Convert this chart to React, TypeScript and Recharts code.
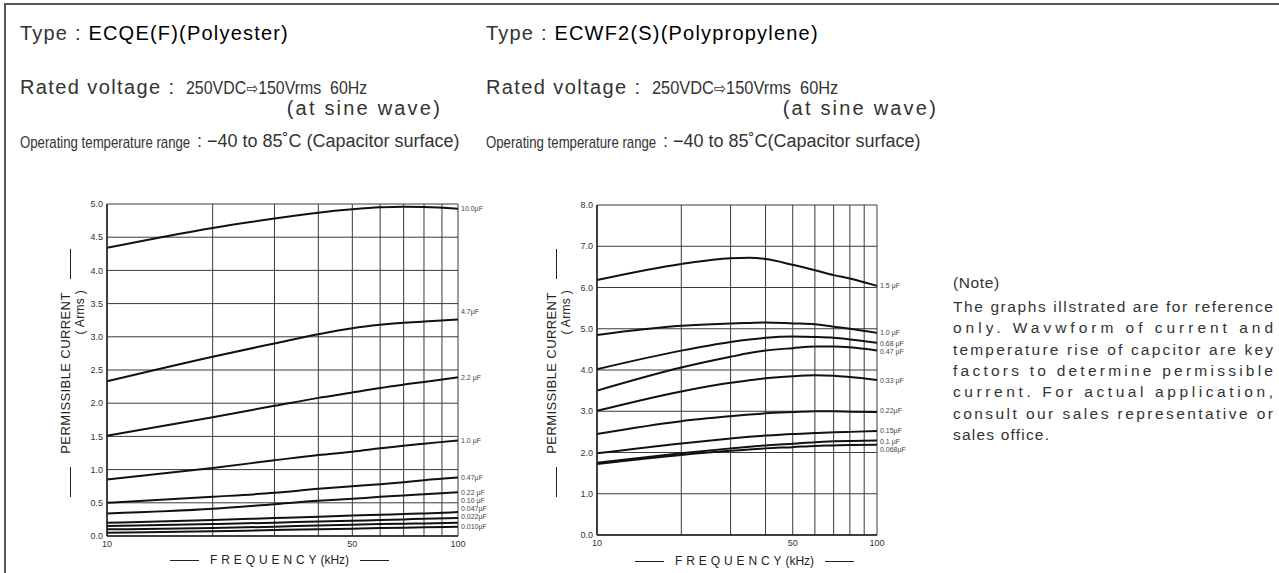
import React, { useLayoutEffect, useRef, useState } from "react";
import { CartesianGrid, Line, LineChart, XAxis, YAxis } from "recharts";

// ---- left chart: ECQE(F) polyester ----
const LEFT_FREQ = [10, 20, 30, 40, 50, 60, 70, 80, 100];
const LEFT_10_0 = [4.34, 4.64, 4.78, 4.87, 4.92, 4.95, 4.96, 4.955, 4.93];
const LEFT_4_7 = [2.33, 2.7, 2.9, 3.04, 3.13, 3.18, 3.21, 3.23, 3.26];
const LEFT_2_2 = [1.51, 1.79, 1.96, 2.08, 2.16, 2.23, 2.28, 2.32, 2.39];
const LEFT_1_0 = [0.85, 1.025, 1.14, 1.22, 1.27, 1.32, 1.36, 1.39, 1.44];
const LEFT_0_47 = [0.5, 0.59, 0.65, 0.71, 0.75, 0.78, 0.81, 0.84, 0.88];
const LEFT_0_22 = [0.34, 0.41, 0.48, 0.53, 0.56, 0.59, 0.61, 0.63, 0.66];
const LEFT_0_10 = [0.2, 0.24, 0.27, 0.29, 0.31, 0.32, 0.33, 0.34, 0.36];
const LEFT_0_047 = [0.15, 0.18, 0.2, 0.22, 0.23, 0.24, 0.25, 0.26, 0.27];
const LEFT_0_022 = [0.1, 0.12, 0.14, 0.16, 0.17, 0.18, 0.185, 0.19, 0.2];
const LEFT_0_010 = [0.05, 0.07, 0.09, 0.1, 0.11, 0.12, 0.125, 0.13, 0.14];
const LEFT_Y_TICKS = [0, 0.5, 1, 1.5, 2, 2.5, 3, 3.5, 4, 4.5, 5];

// ---- right chart: ECWF2(S) polypropylene ----
const RIGHT_FREQ = [10, 20, 30, 35, 40, 50, 60, 70, 80, 100];
const RIGHT_1_5 = [6.18, 6.57, 6.71, 6.72, 6.69, 6.55, 6.42, 6.3, 6.22, 6.04];
const RIGHT_1_0 = [4.85, 5.07, 5.13, 5.14, 5.15, 5.13, 5.11, 5.05, 5.0, 4.9];
const RIGHT_0_68 = [4.02, 4.47, 4.68, 4.74, 4.78, 4.81, 4.8, 4.78, 4.74, 4.66];
const RIGHT_0_47 = [3.5, 4.06, 4.32, 4.41, 4.47, 4.53, 4.57, 4.57, 4.55, 4.47];
const RIGHT_0_33 = [3.01, 3.48, 3.69, 3.75, 3.8, 3.85, 3.87, 3.86, 3.83, 3.76];
const RIGHT_0_22 = [2.45, 2.76, 2.88, 2.92, 2.95, 2.98, 3.0, 3.0, 2.99, 2.98];
const RIGHT_0_15 = [1.98, 2.22, 2.34, 2.38, 2.41, 2.45, 2.47, 2.49, 2.5, 2.52];
const RIGHT_0_1 = [1.75, 1.98, 2.1, 2.14, 2.17, 2.21, 2.25, 2.27, 2.28, 2.29];
const RIGHT_0_068 = [1.72, 1.94, 2.04, 2.07, 2.1, 2.13, 2.16, 2.17, 2.18, 2.19];
const RIGHT_Y_TICKS = [0, 1, 2, 3, 4, 5, 6, 7, 8];

const X_TICKS = [10, 20, 30, 40, 50, 60, 70, 80, 90, 100];
const X_LABELED = [10, 50, 100];

const LEFT_SERIES = [
  { key: "c10_0", name: "10.0μF", values: LEFT_10_0 },
  { key: "c4_7", name: "4.7μF", values: LEFT_4_7 },
  { key: "c2_2", name: "2.2 μF", values: LEFT_2_2 },
  { key: "c1_0", name: "1.0 μF", values: LEFT_1_0 },
  { key: "c0_47", name: "0.47μF", values: LEFT_0_47 },
  { key: "c0_22", name: "0.22 μF", values: LEFT_0_22 },
  { key: "c0_10", name: "0.10 μF", values: LEFT_0_10 },
  { key: "c0_047", name: "0.047μF", values: LEFT_0_047 },
  { key: "c0_022", name: "0.022μF", values: LEFT_0_022 },
  { key: "c0_010", name: "0.010μF", values: LEFT_0_010 },
];

const RIGHT_SERIES = [
  { key: "c1_5", name: "1.5 μF", values: RIGHT_1_5 },
  { key: "c1_0", name: "1.0 μF", values: RIGHT_1_0 },
  { key: "c0_68", name: "0.68 μF", values: RIGHT_0_68 },
  { key: "c0_47", name: "0.47 μF", values: RIGHT_0_47 },
  { key: "c0_33", name: "0.33 μF", values: RIGHT_0_33 },
  { key: "c0_22", name: "0.22μF", values: RIGHT_0_22 },
  { key: "c0_15", name: "0.15μF", values: RIGHT_0_15 },
  { key: "c0_1", name: "0.1 μF", values: RIGHT_0_1 },
  { key: "c0_068", name: "0.068μF", values: RIGHT_0_068 },
];

// label nudges so the end labels don't collide
const LEFT_LABEL_DY: Record<string, number> = {
  c4_7: -8,
  c0_10: -12,
  c0_047: -10,
  c0_022: -6,
};
const RIGHT_LABEL_DY: Record<string, number> = {
  c0_68: 1,
  c0_47: 1,
  c0_33: 1,
  c0_22: -2,
  c0_15: -1,
  c0_1: 1.5,
  c0_068: 5,
};

type Series = { key: string; name: string; values: number[] };

function buildRows(freq: number[], series: Series[]) {
  return freq.map((f, i) => {
    const row: Record<string, number> = { f };
    for (const s of series) row[s.key] = s.values[i];
    return row;
  });
}

const FONT = "'Liberation Sans', Arial, Helvetica, sans-serif";
const GRID = "#3a3a3a";
const INK = "#111";
const TEXT = "#333";

function endLabel(name: string, dy: number, lastIndex: number) {
  return (props: any) => {
    const { cx, cy, index } = props;
    if (index !== lastIndex) return <g key={`d${index}`} />;
    return (
      <text key={`d${index}`} x={cx + 3} y={cy + dy} dy="0.35em" fontSize={7} fill="#444" fontFamily={FONT}>
        {name}
      </text>
    );
  };
}

function CurrentChart({
  freq,
  series,
  yTicks,
  minorTicks,
  yMax,
  labelDy,
  margin,
}: {
  freq: number[];
  series: Series[];
  yTicks: number[];
  minorTicks: number[];
  yMax: number;
  labelDy: Record<string, number>;
  margin: { top: number; right: number; bottom: number; left: number };
}) {
  const rows = buildRows(freq, series);
  const tickStyle = { fontSize: 9, fill: TEXT, fontFamily: FONT };
  return (
    <LineChart width={440} height={380} data={rows} margin={margin}>
      <CartesianGrid stroke={GRID} strokeWidth={1} />
      <XAxis
        dataKey="f"
        type="number"
        scale="log"
        domain={[10, 100]}
        ticks={X_TICKS}
        interval={0}
        tickFormatter={(v: number) => (X_LABELED.includes(v) ? String(v) : "")}
        tick={tickStyle}
        tickLine={false}
        tickSize={3}
        axisLine={{ stroke: "#222", strokeWidth: 1.5 }}
        height={20}
      />
      <XAxis
        xAxisId="top"
        orientation="top"
        dataKey="f"
        type="number"
        scale="log"
        domain={[10, 100]}
        tick={false}
        tickLine={false}
        height={0}
        axisLine={{ stroke: "#777", strokeWidth: 2 }}
      />
      <YAxis
        type="number"
        domain={[0, yMax]}
        ticks={yTicks}
        interval={0}
        tickFormatter={(v: number) => v.toFixed(1)}
        tick={tickStyle}
        tickLine={false}
        tickSize={2}
        axisLine={{ stroke: "#222", strokeWidth: 1.5 }}
        width={30}
      />
      <YAxis
        yAxisId="minor"
        type="number"
        domain={[0, yMax]}
        ticks={minorTicks}
        interval={0}
        mirror
        tickFormatter={() => ""}
        tick={tickStyle}
        tickLine={{ stroke: "#333", strokeWidth: 1 }}
        tickSize={2}
        axisLine={false}
        width={0}
      />
      <YAxis
        yAxisId="right"
        orientation="right"
        type="number"
        domain={[0, yMax]}
        tick={false}
        tickLine={false}
        axisLine={{ stroke: "#222", strokeWidth: 1.5 }}
        width={0}
      />
      {series.map((s) => (
        <Line
          key={s.key}
          type="monotone"
          dataKey={s.key}
          stroke={INK}
          strokeWidth={2}
          dot={endLabel(s.name, labelDy[s.key] ?? 0, rows.length - 1)}
          activeDot={false}
          isAnimationActive={false}
        />
      ))}
    </LineChart>
  );
}

function YTitle({ left, top }: { left: number; top: number }) {
  const rule = <span style={{ display: "inline-block", width: 30, borderTop: "1px solid #222", marginBottom: 2 }} />;
  return (
    <div
      style={{
        position: "absolute",
        left,
        top,
        width: 248,
        height: 30,
        transform: "translate(-50%, -50%) rotate(-90deg)",
        fontFamily: FONT,
        color: "#222",
      }}
    >
      <div style={{ display: "flex", alignItems: "flex-end", justifyContent: "space-between", fontSize: 13, letterSpacing: 0.4, lineHeight: "14px" }}>
        {rule}
        <span>PERMISSIBLE CURRENT</span>
        {rule}
      </div>
      <div style={{ fontSize: 12, lineHeight: "14px", textAlign: "right", paddingRight: 41, letterSpacing: 0.3 }}>( Arms )</div>
    </div>
  );
}

function XTitle({ left, top }: { left: number; top: number }) {
  const rule = <span style={{ display: "inline-block", width: 29, borderTop: "1px solid #222" }} />;
  return (
    <div
      style={{
        position: "absolute",
        left,
        top,
        display: "flex",
        alignItems: "center",
        gap: 11,
        fontFamily: FONT,
        color: "#222",
        fontSize: 12,
        lineHeight: "14px",
        whiteSpace: "nowrap",
      }}
    >
      {rule}
      <span>
        <span style={{ letterSpacing: 3.9 }}>FREQUENCY</span>
        <span style={{ fontSize: 12 }}>(kHz)</span>
      </span>
      {rule}
    </div>
  );
}

// condensed text: no narrow face is installed, so the span is measured and squeezed to a width
function Squeezed({ children, left, top, width, size }: { children: React.ReactNode; left: number; top: number; width: number; size: number }) {
  const ref = useRef<HTMLDivElement>(null);
  const [k, setK] = useState(0.8);
  useLayoutEffect(() => {
    if (ref.current) {
      const natural = ref.current.scrollWidth;
      if (natural > 0) setK(width / natural);
    }
  }, [width]);
  return (
    <div
      ref={ref}
      style={{
        position: "absolute",
        left,
        top,
        fontSize: size,
        lineHeight: `${size + 2}px`,
        color: TEXT,
        whiteSpace: "pre",
        transform: `scaleX(${k})`,
        transformOrigin: "left top",
      }}
    >
      {children}
    </div>
  );
}

function Header({
  left,
  type,
  material,
  sineRight,
  tempText,
  ratedWidth,
}: {
  left: number;
  type: string;
  material: string;
  sineRight: number;
  tempText: string;
  ratedWidth: number;
}) {
  const big = { fontSize: 20, letterSpacing: 1.2, lineHeight: "22px" };
  return (
    <>
      <div style={{ position: "absolute", left, top: 22, ...big, color: TEXT, whiteSpace: "nowrap" }}>
        Type : <span style={{ color: "#000" }}>{type}({material})</span>
      </div>
      <div style={{ position: "absolute", left, top: 76, ...big, letterSpacing: 1.4, color: TEXT, whiteSpace: "nowrap" }}>
        Rated voltage :
      </div>
      <Squeezed left={left + 166} top={77} width={ratedWidth} size={19}>
        250VDC<span style={{ fontFamily: "'DejaVu Sans', sans-serif", fontSize: 17 }}>⇨</span>150Vrms  60Hz
      </Squeezed>
      <div style={{ position: "absolute", left: sineRight - 200, width: 200, top: 97, ...big, letterSpacing: 2.2, color: TEXT, textAlign: "right" }}>
        (at sine wave)
      </div>
      <Squeezed left={left} top={133} width={170} size={17}>
        Operating temperature range
      </Squeezed>
      <div style={{ position: "absolute", left: left + 177, top: 131, color: TEXT, whiteSpace: "nowrap", lineHeight: "20px", fontSize: 18 }}>
        {tempText}
      </div>
    </>
  );
}

const NOTE_LINES = [
  "The graphs illstrated are for reference",
  "only. Wavwform of current and",
  "temperature rise of capcitor are key",
  "factors to determine permissible",
  "current. For actual application,",
  "consult our sales representative or",
];
const NOTE_LAST = "sales office.";

export default function App() {
  return (
    <div
      style={{
        position: "absolute",
        left: 0,
        top: 0,
        width: 1279,
        height: 573,
        background: "#fff",
        fontFamily: FONT,
        overflow: "hidden",
      }}
    >
      <div style={{ position: "absolute", left: 4, top: 3, width: 1290, height: 600, borderTop: "2px solid #555", borderLeft: "2px solid #555" }} />

      <Header left={20} type="ECQE(F)" material="Polyester" sineRight={442} tempText=": −40 to 85˚C (Capacitor surface)" ratedWidth={181} />
      <Header left={486} type="ECWF2(S)" material="Polypropylene" sineRight={938} tempText=": −40 to 85˚C(Capacitor surface)" ratedWidth={186} />

      <div style={{ position: "absolute", left: 60, top: 190 }}>
        <CurrentChart
          freq={LEFT_FREQ}
          series={LEFT_SERIES}
          yTicks={LEFT_Y_TICKS}
          minorTicks={Array.from({ length: 51 }, (_, i) => i / 10)}
          yMax={5}
          labelDy={LEFT_LABEL_DY}
          margin={{ top: 14, right: 42, bottom: 14, left: 17 }}
        />
      </div>
      <YTitle left={74} top={373} />
      <XTitle left={170} top={553} />

      <div style={{ position: "absolute", left: 520, top: 190 }}>
        <CurrentChart
          freq={RIGHT_FREQ}
          series={RIGHT_SERIES}
          yTicks={RIGHT_Y_TICKS}
          minorTicks={Array.from({ length: 33 }, (_, i) => i / 4)}
          yMax={8}
          labelDy={RIGHT_LABEL_DY}
          margin={{ top: 15, right: 83, bottom: 15, left: 47 }}
        />
      </div>
      <YTitle left={560} top={373} />
      <XTitle left={635} top={554} />

      <svg style={{ position: "absolute", left: 953, top: 270, overflow: "visible" }} width={320} height={175}>
        <g fontFamily={FONT} fontSize={15.5} fill={TEXT}>
          <text x={0} y={18} letterSpacing={0.6}>(Note)</text>
          {NOTE_LINES.map((l, i) => (
            <text key={i} x={0} y={42 + i * 21.3} textLength={320} lengthAdjust="spacing">
              {l}
            </text>
          ))}
          <text x={0} y={42 + NOTE_LINES.length * 21.3} letterSpacing={1.2}>
            {NOTE_LAST}
          </text>
        </g>
      </svg>
    </div>
  );
}
